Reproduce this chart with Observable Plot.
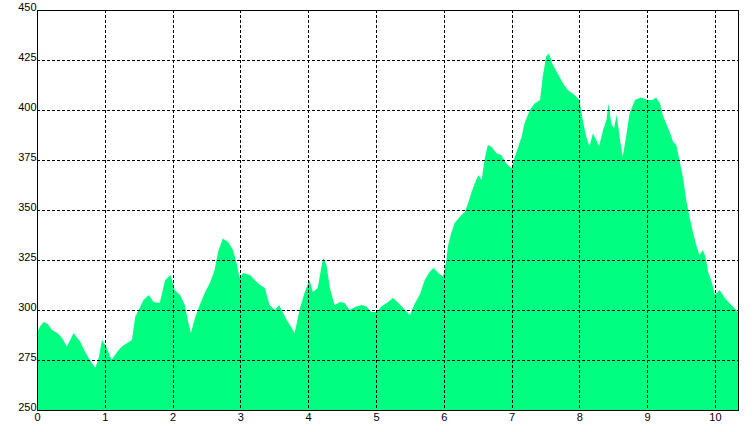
<!DOCTYPE html>
<html>
<head>
<meta charset="utf-8">
<script src="https://cdn.jsdelivr.net/npm/d3@7"></script>
<script src="https://cdn.jsdelivr.net/npm/@observablehq/plot@0.6"></script>
<style>
  html, body { margin: 0; padding: 0; background: #fff; }
  #chart { width: 756px; height: 432px; }
</style>
</head>
<body>
<div id="chart"></div>
<script>
const distance = [
  0, 0.05, 0.1, 0.16, 0.22, 0.3, 0.37, 0.44, 0.49, 0.54, 0.64, 0.71, 0.78, 0.86, 0.91, 0.96,
  1.03, 1.1, 1.18, 1.25, 1.33, 1.4, 1.45, 1.5, 1.57, 1.65, 1.72, 1.81, 1.89, 1.97,
  2.03, 2.11, 2.18, 2.23, 2.27, 2.33, 2.4, 2.48, 2.55, 2.62, 2.67, 2.74, 2.82, 2.89, 2.94, 2.99,
  3.04, 3.14, 3.21, 3.29, 3.36, 3.43, 3.51, 3.57, 3.66, 3.73, 3.8, 3.88, 3.95,
  4.02, 4.07, 4.14, 4.22, 4.27, 4.32, 4.39, 4.47, 4.54, 4.61, 4.71, 4.79, 4.86, 4.93,
  5.01, 5.08, 5.18, 5.25, 5.33, 5.43, 5.5, 5.57, 5.65, 5.72, 5.79, 5.85, 5.92, 5.99,
  6.04, 6.06, 6.11, 6.16, 6.21, 6.26, 6.31, 6.36, 6.41, 6.46, 6.51, 6.56, 6.6, 6.65, 6.7, 6.78, 6.85, 6.92,
  7.0, 7.05, 7.15, 7.19, 7.27, 7.34, 7.42, 7.46, 7.51, 7.55, 7.61, 7.68, 7.76, 7.83, 7.93,
  8.0, 8.05, 8.1, 8.15, 8.2, 8.25, 8.29, 8.35, 8.4, 8.43, 8.47, 8.51, 8.55, 8.6, 8.64, 8.69, 8.74, 8.82, 8.91,
  9.01, 9.08, 9.13, 9.19, 9.23, 9.28, 9.33, 9.38, 9.43, 9.48, 9.53, 9.58, 9.63, 9.68, 9.73, 9.77, 9.82, 9.86, 9.9, 9.95,
  10.0, 10.07, 10.15, 10.22, 10.29, 10.34
];
const elevation = [
  289, 292, 294, 293, 290, 288.5, 286, 281.7, 285, 288.5, 284, 279, 275, 271, 276, 285,
  281, 275, 279, 281.7, 283.5, 285, 296.7, 300, 305, 307.5, 304, 303.5, 315, 317.5,
  310, 307.5, 302.5, 294, 288.5, 296, 302.5, 309, 313.5, 320, 329, 335.8, 334, 330, 324, 316,
  318.5, 317.5, 315, 312.5, 311, 302.5, 300, 302.5, 296.5, 292.5, 288.5, 301, 309,
  315, 309, 311, 326, 322.5, 311, 302.5, 304, 303.5, 300, 301.7, 302.5, 301.7, 299,
  299, 301.7, 304, 306, 303.5, 300, 297.5, 303, 308, 315, 319, 321, 318.5, 316.7,
  325, 331.7, 338.5, 343.5, 345.5, 347.5, 349, 353.5, 359, 363.5, 367.5, 365, 375, 382.5, 381.7, 378.3, 377.5, 373.3,
  370.8, 376.7, 386.7, 393.3, 400, 403.3, 405, 416.7, 426.7, 428.3, 422.5, 418.3, 413.3, 410, 407.5,
  405, 395, 386.7, 381.7, 388.3, 385, 381.7, 390, 395, 403.3, 393.3, 390.8, 397.5, 385, 376.7, 386.7, 398.3, 405, 406.2,
  405, 405, 406.2, 403.3, 397.5, 393.3, 389.2, 384.2, 382.5, 374.2, 365.8, 354.2, 345.8, 338.3, 331.7, 327.5, 330, 326.7, 319, 314.2,
  307.5, 310, 305.8, 303.3, 300.8, 299
];
const xTicks = [0, 1, 2, 3, 4, 5, 6, 7, 8, 9, 10];
const yTicks = [250, 275, 300, 325, 350, 375, 400, 425, 450];

const data = distance.map((d, i) => ({d, e: elevation[i]}));
const font = "'Liberation Sans', Arial, sans-serif";

const chart = Plot.plot({
  width: 756,
  height: 432,
  marginLeft: 37,
  marginRight: 18,
  marginTop: 10,
  marginBottom: 22,
  style: {background: "#fff", fontFamily: font},
  x: {domain: [0, 10.34], axis: null},
  y: {domain: [250, 450], axis: null},
  marks: [
    Plot.areaY(data, {x: "d", y1: 250, y2: "e", fill: "#00ff80", curve: "linear"}),
    Plot.ruleX(xTicks.filter(t => t > 0), {x: d => d, stroke: "black", strokeWidth: 1, strokeDasharray: "3,2", shapeRendering: "crispEdges"}),
    Plot.ruleY(yTicks.filter(t => t > 250 && t < 450), {y: d => d, stroke: "black", strokeWidth: 1, strokeDasharray: "3,2", shapeRendering: "crispEdges"}),
    Plot.frame({stroke: "black", strokeWidth: 1, shapeRendering: "crispEdges"}),
    Plot.text(yTicks, {y: d => d, text: d => String(d), frameAnchor: "left", textAnchor: "end", lineAnchor: "bottom", dx: -1, dy: 0, fontSize: 11, fill: "black"}),
    Plot.text(xTicks, {x: d => d, text: d => String(d), frameAnchor: "bottom", lineAnchor: "top", dy: 3, fontSize: 11, fill: "black"})
  ]
});
document.getElementById("chart").appendChild(chart);
</script>
</body>
</html>
